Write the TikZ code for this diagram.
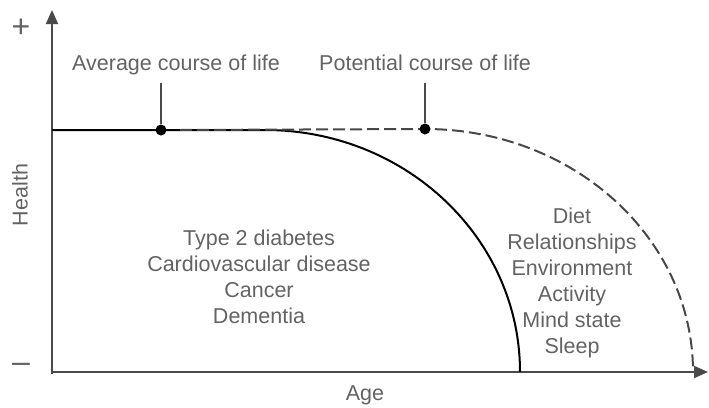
\documentclass[tikz,border=0pt]{standalone}
\usepackage{fontspec}
\setmainfont{Liberation Sans}
\usetikzlibrary{arrows.meta}
\definecolor{txt}{HTML}{636363}
\definecolor{axis}{HTML}{4A4A4A}
\begin{document}
\begin{tikzpicture}[x=1pt,y=-1pt,
  lbl/.style={text=txt,font=\fontsize{21.5}{26}\selectfont,inner sep=0pt,align=center},
  sign/.style={text=txt,font=\fontsize{32}{32}\selectfont,inner sep=0pt},
  axisline/.style={draw=axis,line width=2pt,-{Triangle[length=14pt,width=12pt]}},
  curve/.style={draw=black,line width=2pt},
  dashcurve/.style={draw=black!72,line width=2pt,dash pattern=on 12pt off 5pt},
  dot/.style={circle,fill=black,inner sep=0pt,minimum size=11pt},
  pin/.style={draw=axis,line width=1.6pt}]
\useasboundingbox (0,0) rectangle (709,407);
% axes
\coordinate (O) at (52,372);
\coordinate (ytop) at (52,10);
\coordinate (xend) at (708,372);
\draw[axisline] (52,374) -- (ytop);
\draw[axisline] (51,372) -- (xend);
% curves
\coordinate (s0) at (52,130);
\coordinate (s1) at (265,130);
\draw[curve] (s0) -- (s1) arc[start angle=90,end angle=0,x radius=255,y radius=-242];
\node[dot] (d1) at (161,130) {};
\coordinate (p1) at (425,129);
\draw[dashcurve] (180,130) -- (p1) arc[start angle=90,end angle=0,x radius=268,y radius=-243];
\node[dot] (d2) at (p1) {};
% labels
\node[lbl,anchor=base] (avg) at (176,70) {Average course of life};
\node[lbl,anchor=base] (pot) at (425,70) {Potential course of life};
\coordinate (t1) at (161,83);
\coordinate (t2) at (425,83);
\draw[pin] (t1) -- (d1);
\draw[pin] (t2) -- (d2);
\node[sign] (plus) at (21,28) {+};
\node[sign] (minus) at (21,368) {–};
\node[lbl,rotate=90] (health) at (20,195) {Health};
\node[lbl,anchor=base] (age) at (365,400) {Age};
\node[lbl,anchor=base] (dis) at (259,323) {Type 2 diabetes\\Cardiovascular disease\\Cancer\\Dementia};
\node[lbl,anchor=base] (fac) at (572,353) {Diet\\Relationships\\Environment\\Activity\\Mind state\\Sleep};
\end{tikzpicture}
\end{document}
